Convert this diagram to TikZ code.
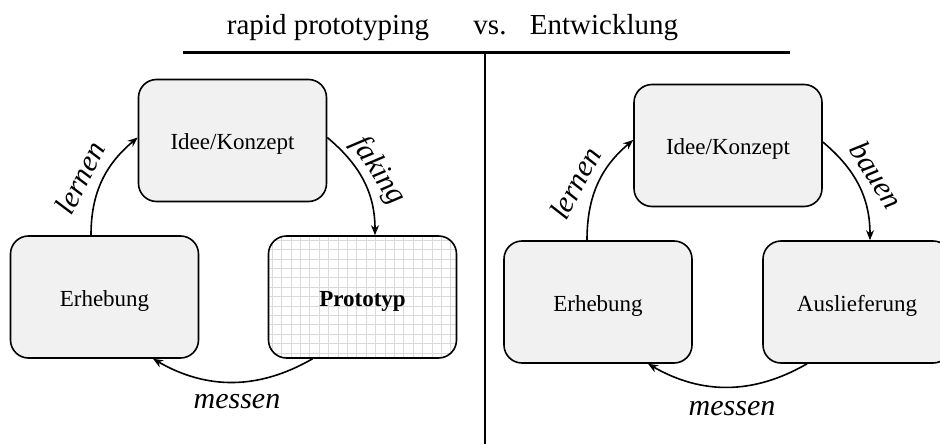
\documentclass[tikz,border=0pt]{standalone}
\usepackage{fontspec}
\setmainfont{Liberation Serif}
\usetikzlibrary{arrows.meta}
\definecolor{boxgray}{HTML}{F1F1F1}
\definecolor{gridgray}{HTML}{DADADA}
\begin{document}
\begin{tikzpicture}[x=1pt,y=1pt,
  stage/.style={draw, line width=1.6pt, rounded corners=18pt, fill=boxgray,
    minimum width=188pt, minimum height=122pt, inner sep=0pt,
    text height=18pt, text depth=0pt,
    font=\fontsize{23}{27}\selectfont},
  gridstage/.style={stage, fill=white,
    path picture={\draw[gridgray, line width=0.8pt]
      (path picture bounding box.south west) grid[step=9.4pt]
      (path picture bounding box.north east);}},
  flow/.style={line width=1.6pt, -{Stealth[length=10pt,width=8pt]}},
  verb/.style={font=\fontsize{30}{34}\selectfont\itshape, inner sep=0pt},
  heading/.style={font=\fontsize{29}{34}\selectfont, anchor=base, inner sep=0pt}
]
\clip (0,0) rectangle (940,-444);

% heading and dividing rules
\node[heading] (tl) at (328,-35) {rapid prototyping};
\node[heading] (tv) at (490,-35) {vs.};
\node[heading] (tr) at (604,-35) {Entwicklung};
\coordinate (ruleL) at (183,-53);
\coordinate (ruleR) at (790,-53);
\coordinate (ruleT) at (485,-53);
\coordinate (ruleB) at (485,-444);
\draw[line width=3pt] (ruleL) -- (ruleR);
\draw[line width=2.4pt] (ruleT) -- (ruleB);

% rapid prototyping cycle
\node[stage] (ideaA) at (232.5,-140.5) {Idee/Konzept};
\node[stage] (surveyA) at (104.5,-297) {Erhebung};
\node[gridstage, font=\fontsize{23}{27}\selectfont\bfseries] (proto) at (362.5,-297) {Prototyp};

\draw[flow] ([xshift=-13.5pt]surveyA.north) to[out=90,in=220] ([yshift=3pt]ideaA.west);
\draw[flow] ([yshift=3pt]ideaA.east) to[out=-40,in=90] ([xshift=12.5pt]proto.north);
\draw[flow] ([xshift=-50pt]proto.south) to[out=210,in=-30] ([xshift=48.5pt]surveyA.south);

\node[verb, rotate=63] (learnA) at (80,-178) {lernen};
\node[verb, rotate=-57] (fakeA) at (378,-171) {faking};
\node[verb] (measureA) at (237,-402) {messen};

% development cycle
\node[stage] (ideaB) at (728,-145.5) {Idee/Konzept};
\node[stage] (surveyB) at (598,-302) {Erhebung};
\node[stage] (ship) at (857,-302) {Auslieferung};

\draw[flow] ([xshift=-11pt]surveyB.north) to[out=90,in=220] ([yshift=5.5pt]ideaB.west);
\draw[flow] ([yshift=3.5pt]ideaB.east) to[out=-40,in=90] ([xshift=13pt]ship.north);
\draw[flow] ([xshift=-50pt]ship.south) to[out=210,in=-30] ([xshift=50pt]surveyB.south);

\node[verb, rotate=62] (learnB) at (575,-183) {lernen};
\node[verb, rotate=-58] (buildB) at (877,-175) {bauen};
\node[verb] (measureB) at (732,-409) {messen};
\end{tikzpicture}
\end{document}
